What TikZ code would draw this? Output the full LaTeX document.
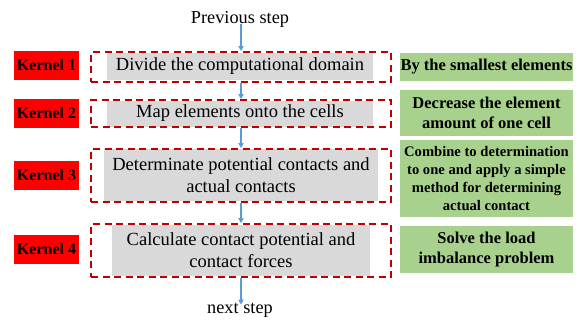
\documentclass[tikz,border=0pt]{standalone}
\usepackage{fontspec}
\setmainfont{Liberation Serif}
\usetikzlibrary{arrows.meta}
\definecolor{kred}{RGB}{255,0,0}
\definecolor{dred}{RGB}{192,0,0}
\definecolor{gbox}{RGB}{217,217,217}
\definecolor{gren}{RGB}{169,209,142}
\definecolor{arr}{RGB}{91,155,213}
\tikzset{
  kern/.style={fill=kred,inner sep=0pt,minimum width=65pt,minimum height=29pt,font=\fontsize{16}{18}\selectfont\bfseries},
  dbox/.style={draw=dred,dash pattern=on 7pt off 4.5pt,line width=1.6pt,inner sep=0pt,minimum width=300pt},
  gray/.style={fill=gbox,inner sep=0pt,align=center,font=\fontsize{18.5}{22}\selectfont},
  grn/.style={fill=gren,inner sep=0pt,align=center,minimum width=173pt,font=\fontsize{16.5}{20}\selectfont\bfseries},
  grnsmall/.style={font=\fontsize{14.6}{17.7}\selectfont\bfseries},
  flow/.style={draw=arr,line width=1.2pt,-{Triangle[length=5pt,width=5pt]}},
  lbl/.style={inner sep=0pt,font=\fontsize{18.3}{20}\selectfont}
}
\begin{document}
\begin{tikzpicture}[x=1pt,y=-1pt]
\useasboundingbox (0,0) rectangle (582,322);
% kernel labels
\node[kern] (k1) at (46.5,65.5) {Kernel 1};
\node[kern] (k2) at (46.5,113.5) {Kernel 2};
\node[kern] (k3) at (46.5,175.5) {Kernel 3};
\node[kern] (k4) at (46.5,249) {Kernel 4};
% gray boxes
\node[gray,minimum width=266pt,minimum height=27pt] (g1) at (240,66.5) {Divide the computational domain};
\node[gray,minimum width=266pt,minimum height=26pt] (g2) at (240,113.5) {Map elements onto the cells};
\node[gray,minimum width=274pt,minimum height=52pt] (g3) at (241,175) {Determinate potential contacts and\\actual contacts};
\node[gray,minimum width=258pt,minimum height=51pt] (g4) at (241,250.5) {Calculate contact potential and\\contact forces};
% dashed boxes
\node[dbox,minimum height=30pt] (d1) at (241,67) {};
\node[dbox,minimum height=27pt] (d2) at (241,113.5) {};
\node[dbox,minimum height=53pt] (d3) at (241,175.5) {};
\node[dbox,minimum height=53pt] (d4) at (241,250.5) {};
% green boxes
\node[grn,minimum height=28pt] (r1) at (486.5,67) {By the smallest elements};
\node[grn,minimum height=46pt] (r2) at (486.5,113) {Decrease the element\\amount of one cell};
\node[grn,grnsmall,minimum height=77pt] (r3) at (486.5,178.5) {Combine to determination\\to one and apply a simple\\method for determining\\actual contact};
\node[grn,minimum height=47pt] (r4) at (486.5,249.5) {Solve the load\\imbalance problem};
% step labels
\node[lbl] (prev) at (240,19) {Previous step};
\node[lbl] (next) at (240,310) {next step};
% arrows
\draw[flow] ([yshift=3pt]prev.south -| d1.north) -- (d1.north);
\draw[flow] (d1.south) -- (d2.north);
\draw[flow] (d2.south) -- (d3.north);
\draw[flow] (d3.south) -- (d4.north);
\draw[flow] (d4.south) -- ([yshift=-2pt]next.north -| d4.south);
\end{tikzpicture}
\end{document}
